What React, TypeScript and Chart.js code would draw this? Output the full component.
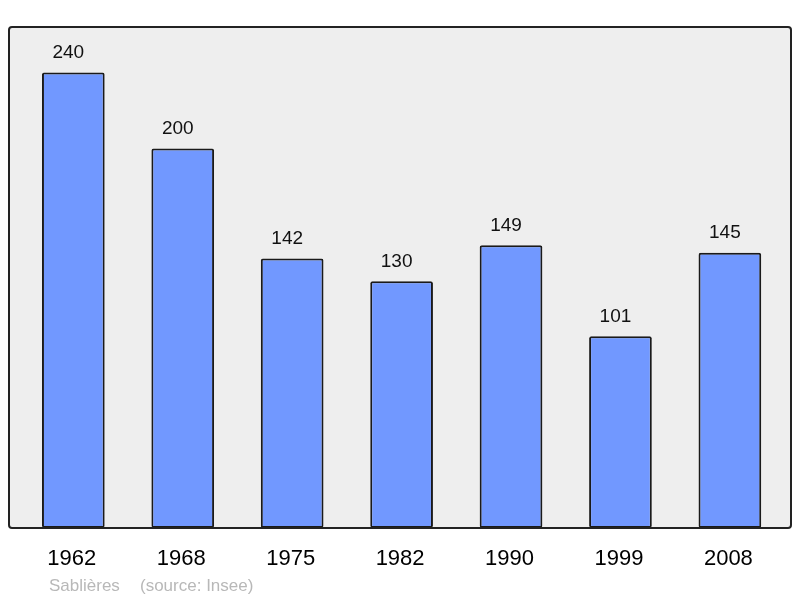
import React, { useEffect, useRef } from "react";
import { Chart, registerables } from "chart.js";

Chart.register(...registerables);

const years = ["1962", "1968", "1975", "1982", "1990", "1999", "2008"];
const population = [240, 200, 142, 130, 149, 101, 145];
const yMax = 264;
const placeName = "Sablières";
const sourceText = "(source: Insee)";

const FONT = "'Liberation Sans', Arial, sans-serif";

const framePlugin = {
  id: "frame",
  beforeDraw(chart: any) {
    const ctx = chart.ctx;
    ctx.save();
    ctx.fillStyle = "#ffffff";
    ctx.fillRect(0, 0, chart.width, chart.height);
    ctx.beginPath();
    ctx.roundRect(9, 27, 782, 501, 3);
    ctx.fillStyle = "#eeeeee";
    ctx.fill();
    ctx.restore();
  },
  afterDatasetsDraw(chart: any) {
    const ctx = chart.ctx;
    const x = chart.scales.x;
    const y = chart.scales.y;
    const meta = chart.getDatasetMeta(0);
    ctx.save();
    ctx.beginPath();
    ctx.roundRect(9, 27, 782, 501, 3);
    ctx.lineWidth = 2;
    ctx.strokeStyle = "#222222";
    ctx.stroke();

    ctx.fillStyle = "#111111";
    ctx.textAlign = "center";
    ctx.textBaseline = "alphabetic";
    ctx.font = `19px ${FONT}`;
    population.forEach((v, i) => {
      const bar = meta.data[i];
      ctx.fillText(String(v), bar.x - 5, y.getPixelForValue(v) - 14.5);
    });

    ctx.fillStyle = "#000000";
    ctx.font = `22px ${FONT}`;
    years.forEach((yr, i) => {
      ctx.fillText(yr, x.getPixelForValue(i) - 1.5, 565);
    });

    ctx.fillStyle = "#b8b8b8";
    ctx.textAlign = "left";
    ctx.font = `17px ${FONT}`;
    ctx.fillText(placeName, 49, 591);
    ctx.fillText(sourceText, 140, 591);
    ctx.restore();
  },
};

export default function App() {
  const ref = useRef<HTMLCanvasElement | null>(null);
  useEffect(() => {
    if (!ref.current) return;
    const chart = new Chart(ref.current, {
      type: "bar",
      data: {
        labels: years,
        datasets: [
          {
            data: population,
            backgroundColor: "#7198ff",
            borderColor: "#1a1a1a",
            borderWidth: 2,
            borderRadius: 2,
            borderSkipped: false,
            barPercentage: 0.573,
            categoryPercentage: 1,
          },
        ],
      },
      options: {
        responsive: false,
        animation: false,
        layout: { padding: { left: 18.6, right: 15.4, top: 27, bottom: 70 } },
        plugins: { legend: { display: false }, tooltip: { enabled: false } },
        scales: {
          x: { display: false },
          y: { display: false, min: 0, max: yMax },
        },
      },
      plugins: [framePlugin],
    });
    return () => chart.destroy();
  }, []);
  return (
    <div style={{ position: "absolute", left: 0, top: 0, width: 800, height: 598 }}>
      <canvas ref={ref} width={800} height={598} />
    </div>
  );
}
